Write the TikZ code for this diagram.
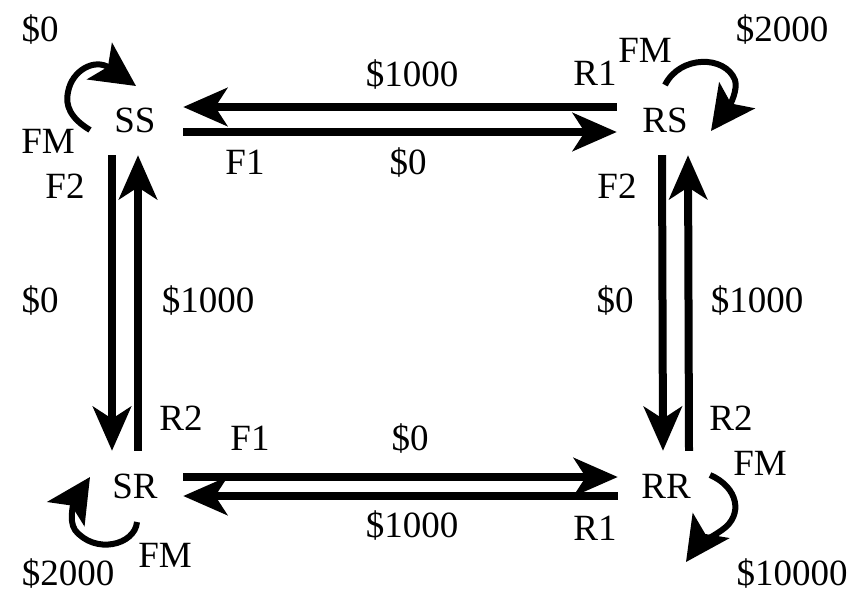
\documentclass[tikz,border=0pt]{standalone}
\usepackage{fontspec}
\setmainfont{Liberation Serif}
\usetikzlibrary{arrows.meta}
\begin{document}
\begin{tikzpicture}[x=1pt,y=-1pt,
  lbl/.style={anchor=base, inner sep=0pt, font=\fontsize{37}{40}\selectfont},
  state/.style={inner sep=0pt, minimum width=96pt, minimum height=70pt,
    font=\fontsize{37}{40}\selectfont},
  flow/.style={line width=8pt, -{Stealth[length=44pt,width=38pt,inset=12pt]}},
  selfloop/.style={line width=6pt, -{Stealth[length=44pt,width=44pt,inset=10pt]}}]
\useasboundingbox (0,0) rectangle (861,592);

% states
\node[state] (SS) at (135,120) {SS};
\node[state] (RS) at (665,120) {RS};
\node[state] (SR) at (135,486) {SR};
\node[state] (RR) at (666,486) {RR};

% transitions between states
\draw[flow] ([yshift=13pt]RS.west) -- ([yshift=13pt]SS.east);
\draw[flow] ([yshift=-12pt]SS.east) -- ([yshift=-12pt]RS.west);
\draw[flow] ([yshift=9pt]SR.east) -- ([yshift=9pt]RR.west);
\draw[flow] ([yshift=-10pt]RR.west) -- ([yshift=-10pt]SR.east);
\draw[flow] ([xshift=-23pt]SS.south) -- ([xshift=-23pt]SR.north);
\draw[flow] ([xshift=3pt]SR.north) -- ([xshift=3pt]SS.south);
\draw[flow] ([xshift=-3pt]RS.south) -- ([xshift=-3pt]RR.north);
\draw[flow] ([xshift=23pt]RR.north) -- ([xshift=23pt]RS.south);

% self loops
\coordinate (ssA) at (90,130);  \coordinate (ssB) at (136,86);
\coordinate (rsA) at (665,85);  \coordinate (rsB) at (711,131);
\coordinate (srA) at (137,522); \coordinate (srB) at (90,477);
\coordinate (rrA) at (710,475); \coordinate (rrB) at (686,562);
\draw[selfloop] (ssA) .. controls (70,118) and (65,105) .. (68,92)
  .. controls (72,70) and (95,58) .. (ssB);
\draw[selfloop] (rsA) .. controls (680,55) and (725,55) .. (735,80)
  .. controls (738,90) and (730,105) .. (rsB);
\draw[selfloop] (srA) .. controls (135,545) and (95,555) .. (75,530)
  .. controls (68,520) and (75,500) .. (srB);
\draw[selfloop] (rrA) .. controls (738,487) and (744,515) .. (722,530)
  .. controls (712,537) and (697,546) .. (rrB);

% labels
\node[lbl] (lTopCost) at (412,86) {\$1000};
\node[lbl] (lTopR1) at (595,85) {R1};
\node[lbl] (lRSfm) at (645,62) {FM};
\node[lbl] (lRScost) at (782,41) {\$2000};
\node[lbl] (lSScost) at (40,41) {\$0};
\node[lbl] (lSSfm) at (48,153) {FM};
\node[lbl] (lLF2) at (65,198) {F2};
\node[lbl] (lTopF1) at (245,174) {F1};
\node[lbl] (lTopZero) at (408,174) {\$0};
\node[lbl] (lRF2) at (617,198) {F2};
\node[lbl] (lLZero) at (40,312) {\$0};
\node[lbl] (lLCost) at (208,312) {\$1000};
\node[lbl] (lRZero) at (615,312) {\$0};
\node[lbl] (lRCost) at (757,312) {\$1000};
\node[lbl] (lLR2) at (181,430) {R2};
\node[lbl] (lBotF1) at (250,450) {F1};
\node[lbl] (lBotZero) at (410,450) {\$0};
\node[lbl] (lRR2) at (731,430) {R2};
\node[lbl] (lRRfm) at (760,475) {FM};
\node[lbl] (lBotCost) at (412,537) {\$1000};
\node[lbl] (lBotR1) at (595,540) {R1};
\node[lbl] (lRRcost) at (792,585) {\$10000};
\node[lbl] (lSRcost) at (68,585) {\$2000};
\node[lbl] (lSRfm) at (165,567) {FM};
\end{tikzpicture}
\end{document}
